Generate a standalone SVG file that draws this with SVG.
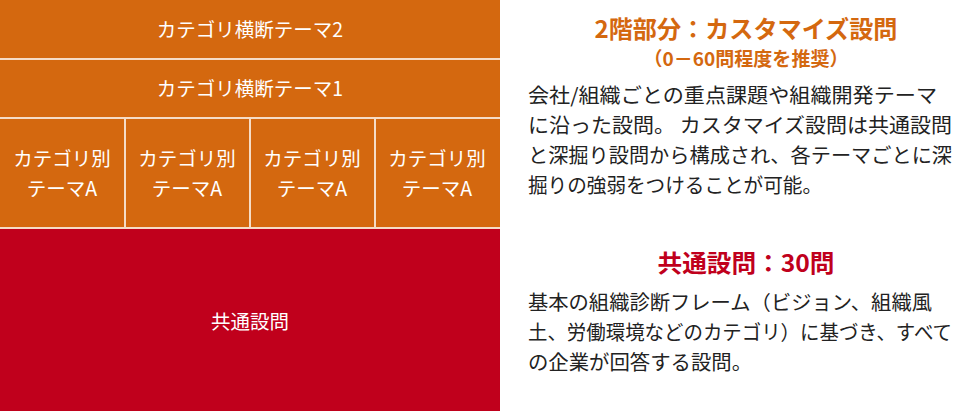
<svg xmlns="http://www.w3.org/2000/svg" width="960" height="411" viewBox="0 0 960 411">
<style>
.o{fill:#d4680f}
.r{fill:#c0001c}
.w{fill:#ffffff;font-family:"Noto Sans CJK JP","Noto Sans",sans-serif;font-size:19.5px;text-anchor:middle}
.sep{stroke:#f6dcc6;stroke-width:2;fill:none}
.h{font-family:"Noto Sans CJK JP","Noto Sans",sans-serif;font-weight:bold;text-anchor:middle}
.b{fill:#222222;font-family:"Noto Sans CJK JP","Noto Sans",sans-serif;font-size:20px}
</style>
<rect width="960" height="411" fill="#ffffff"/>
<g id="theme2"><rect class="o" x="0" y="0" width="500" height="59"/><text class="w" x="250" y="37" font-size="20.5">カテゴリ横断テーマ2</text></g>
<g id="theme1"><rect class="o" x="0" y="59" width="500" height="59"/><text class="w" x="250" y="96" font-size="20.5">カテゴリ横断テーマ1</text></g>
<g id="catA1"><rect class="o" x="0" y="118" width="125" height="110"/><text class="w" x="62" y="166">カテゴリ別</text><text class="w" x="62" y="196">テーマA</text></g>
<g id="catA2"><rect class="o" x="125" y="118" width="125" height="110"/><text class="w" x="187" y="166">カテゴリ別</text><text class="w" x="187" y="196">テーマA</text></g>
<g id="catA3"><rect class="o" x="250" y="118" width="125" height="110"/><text class="w" x="312" y="166">カテゴリ別</text><text class="w" x="312" y="196">テーマA</text></g>
<g id="catA4"><rect class="o" x="375" y="118" width="125" height="110"/><text class="w" x="437" y="166">カテゴリ別</text><text class="w" x="437" y="196">テーマA</text></g>
<g id="common"><rect class="r" x="0" y="228" width="500" height="183"/><text class="w" x="250" y="329">共通設問</text></g>
<g id="connectors">
<line class="sep" x1="0" y1="59" x2="500" y2="59"/>
<line class="sep" x1="0" y1="118" x2="500" y2="118"/>
<line class="sep" x1="125" y1="118" x2="125" y2="228"/>
<line class="sep" x1="250" y1="118" x2="250" y2="228"/>
<line class="sep" x1="375" y1="118" x2="375" y2="228"/>
<line class="sep" x1="0" y1="228" x2="500" y2="228"/>
</g>
<g id="custom-desc">
<text class="h" x="746" y="38" font-size="24" fill="#d4680f" textLength="303" lengthAdjust="spacingAndGlyphs">2階部分：カスタマイズ設問</text>
<text class="h" x="746" y="66" font-size="19" fill="#d4680f" textLength="205" lengthAdjust="spacingAndGlyphs">（0－60問程度を推奨）</text>
<text class="b" x="528" y="103" textLength="409" lengthAdjust="spacingAndGlyphs">会社/組織ごとの重点課題や組織開発テーマ</text>
<text class="b" x="528" y="133" textLength="424" lengthAdjust="spacingAndGlyphs">に沿った設問。 カスタマイズ設問は共通設問</text>
<text class="b" x="528" y="163" textLength="424" lengthAdjust="spacingAndGlyphs">と深掘り設問から構成され、各テーマごとに深</text>
<text class="b" x="528" y="193" textLength="294" lengthAdjust="spacingAndGlyphs">掘りの強弱をつけることが可能。</text>
</g>
<g id="common-desc">
<text class="h" x="746" y="272" font-size="24" fill="#c0001c" textLength="177" lengthAdjust="spacingAndGlyphs">共通設問：30問</text>
<text class="b" x="528" y="310" textLength="404" lengthAdjust="spacingAndGlyphs">基本の組織診断フレーム（ビジョン、組織風</text>
<text class="b" x="528" y="340" font-size="19" textLength="424" lengthAdjust="spacingAndGlyphs">土、労働環境などのカテゴリ）に基づき、すべて</text>
<text class="b" x="528" y="370" textLength="224" lengthAdjust="spacingAndGlyphs">の企業が回答する設問。</text>
</g>
</svg>
